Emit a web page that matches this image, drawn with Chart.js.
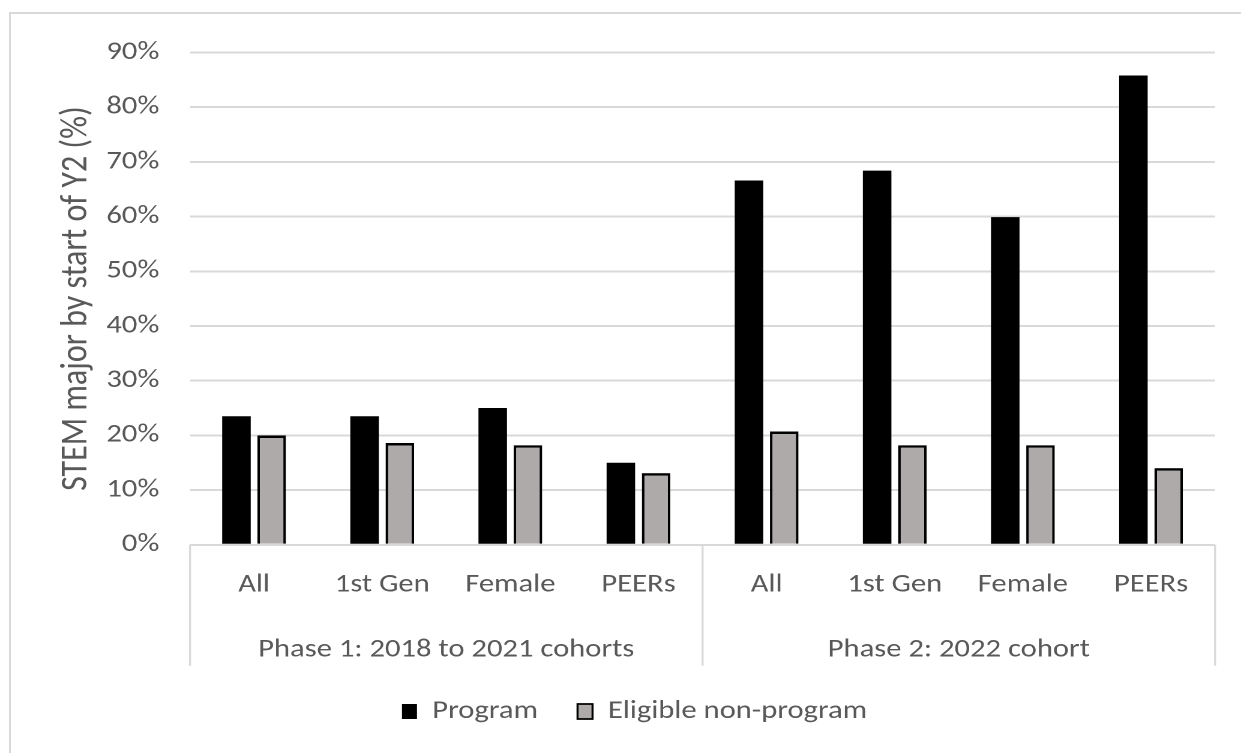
<!DOCTYPE html>
<html>
<head>
<meta charset="utf-8">
<script src="https://cdn.jsdelivr.net/npm/chart.js@4"></script>
<style>
  html, body { margin: 0; padding: 0; background: #fff; overflow: hidden; }
  #frame { position: absolute; left: 9px; top: 12px; width: 1400px; height: 900px; border: 2px solid #d9d9d9; }
  #chart { position: absolute; left: 0; top: 0; }
</style>
</head>
<body>
<div id="frame"></div>
<!-- drawn at 1034 px wide and shown at 1241 px, like the stretched original -->
<canvas id="chart" width="1034" height="753" style="width:1241px;height:753px"></canvas>
<script>
// data
const categories = ['All', '1st Gen', 'Female', 'PEERs', 'All', '1st Gen', 'Female', 'PEERs'];
const groups = ['Phase 1: 2018 to 2021 cohorts', 'Phase 2: 2022 cohort'];
const groupSizes = [4, 4];
const programValues = [23.5, 23.5, 25.0, 15.0, 66.6, 68.4, 59.9, 85.8];
const nonProgramValues = [20.0, 18.6, 18.2, 13.1, 20.7, 18.2, 18.2, 14.0];
const seriesNames = ['Program', 'Eligible non-program'];
const yMin = 0, yMax = 90, yStep = 10;

const textColor = '#595959';
const gridColor = '#d9d9d9';
const font = { family: 'Carlito', size: 25.5 };

// vertical lines that box the two category groups under the plot
const groupLines = {
    id: 'groupLines',
    afterDraw(chart) {
        const x = chart.scales.x;
        const x2 = chart.scales.x2;
        const area = chart.chartArea;
        const ctx = chart.ctx;
        const edges = [area.left];
        let idx = 0;
        groupSizes.forEach(n => {
            idx += n;
            if (idx < categories.length) {
                edges.push((x.getPixelForTick(idx - 1) + x.getPixelForTick(idx)) / 2);
            }
        });
        edges.push(area.right);
        ctx.save();
        ctx.strokeStyle = gridColor;
        ctx.lineWidth = 1.7;
        edges.forEach(px => {
            ctx.beginPath();
            ctx.moveTo(px, area.bottom);
            ctx.lineTo(px, x2.bottom);
            ctx.stroke();
        });
        ctx.restore();
    }
};

const ctx = document.getElementById('chart').getContext('2d');
const chart = new Chart(ctx, {
    type: 'bar',
    data: {
        labels: categories,
        datasets: [{
            label: seriesNames[0],
            data: programValues,
            backgroundColor: '#000000',
            borderWidth: 0
        }, {
            label: seriesNames[1],
            data: nonProgramValues,
            backgroundColor: '#aeaaaa',
            borderColor: '#000000',
            borderWidth: { top: 2.6, left: 2.2, right: 2.2, bottom: 0 }
        }]
    },
    options: {
        responsive: false,
        animation: false,
        devicePixelRatio: 2,
        categoryPercentage: 0.55,
        barPercentage: 0.81,
        layout: {
            padding: { left: 45, right: 21.6, top: 52.5, bottom: 18.75 }
        },
        scales: {
            x: {
                grid: { display: false, drawTicks: false },
                border: { display: false },
                ticks: { color: textColor, font: font, padding: 25, maxRotation: 0, autoSkip: false },
                afterFit(scale) { scale.height = 70; }
            },
            x2: {
                type: 'category',
                position: 'bottom',
                labels: groups,
                offset: true,
                grid: { display: false, drawTicks: false },
                border: { display: false },
                ticks: { color: textColor, font: font, padding: 20, maxRotation: 0, autoSkip: false },
                afterFit(scale) { scale.height = 51; }
            },
            y: {
                min: yMin,
                max: yMax,
                ticks: {
                    stepSize: yStep,
                    color: textColor,
                    font: font,
                    padding: 25.6,
                    callback: v => v + '%'
                },
                grid: { color: gridColor, lineWidth: 2, drawTicks: false },
                border: { display: false },
                title: {
                    display: true,
                    text: 'STEM major by start of Y2 (%)',
                    color: textColor,
                    font: { family: 'Carlito', size: 32 },
                    padding: { top: 0, bottom: 0 }
                },
                afterFit(scale) { scale.width = 113.3; }
            }
        },
        plugins: {
            legend: {
                position: 'bottom',
                labels: {
                    color: textColor,
                    font: font,
                    boxWidth: 12.5,
                    boxHeight: 15,
                    padding: 33
                }
            },
            tooltip: { enabled: false }
        }
    },
    plugins: [groupLines]
});
</script>
</body>
</html>
